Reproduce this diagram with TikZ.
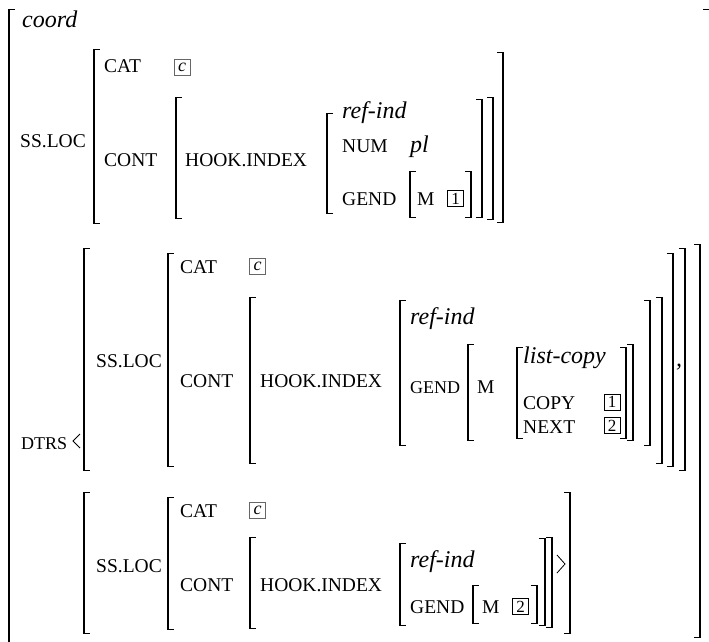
\documentclass[tikz,border=0pt]{standalone}
\usepackage{fontspec}
\setmainfont{Liberation Serif}
\usepackage{tikz}
\tikzset{
  vbar/.style={line width=2pt},
  tickl/.style={line width=1pt},
  sc/.style={anchor=base west, inner sep=0pt, font=\fontsize{19.5}{22}\selectfont},
  scn/.style={sc, font=\fontsize{18}{22}\selectfont},
  it/.style={anchor=base west, inner sep=0pt, font=\fontsize{24}{27}\selectfont\itshape},
  tag/.style={draw, line width=0.7pt, minimum width=16pt, minimum height=16pt, inner sep=0pt, font=\fontsize{17}{17}\selectfont},
  ctag/.style={tag, draw=black!60, font=\fontsize{18}{18}\selectfont\itshape},
  angle/.style={line width=0.8pt, line join=miter},
}
\newcommand\avmL[3]{\draw[vbar] (#1,#2) -- (#1,#3); \draw[tickl] (#1-1,#2) -- (#1+6,#2) (#1-1,#3) -- (#1+6,#3);}
\newcommand\avmR[3]{\draw[vbar] (#1,#2) -- (#1,#3); \draw[tickl] (#1+1,#2) -- (#1-6,#2) (#1+1,#3) -- (#1-6,#3);}
\begin{document}
\begin{tikzpicture}[x=1pt,y=-1pt]
\useasboundingbox (0,0) rectangle (709,642);
% outer matrix
\draw[vbar] (9,10) -- (9,660); \draw[tickl] (8,10) -- (15,10);
\draw[tickl] (703,10) -- (709,10);
\avmR{700}{244}{637}
\node[it] (coord) at (22,28) {coord};
% first SS.LOC
\node[sc] (ssloc1) at (20,147) {SS.LOC};
\avmL{94}{50}{223}
\node[sc] (cat1) at (104,73) {CAT};
\node[ctag] (c1) at (182,67.5) {c};
\node[sc] (cont1) at (104,166) {CONT};
\avmL{176}{97}{218}
\node[sc] (hook1) at (185,166) {HOOK.INDEX};
\avmL{327}{113}{213}
\node[it] (ref1) at (342,118) {ref-ind};
\node[sc] (num1) at (342,152) {NUM};
\node[it] (pl1) at (410,152) {pl};
\node[sc] (gend1) at (342,205) {GEND};
\avmL{410}{171}{217}
\node[sc] (m1) at (417,205) {M};
\node[tag] (t1a) at (455.5,198.5) {1};
\avmR{471}{171}{217}
\avmR{482}{99}{217}
\avmR{493}{97}{219}
\avmR{503}{53}{222}
% DTRS
\node[scn] (dtrs) at (21,449) {DTRS};
\draw[angle] (80,434) -- (73,441) -- (80,448);
% first daughter
\avmL{84}{248}{470}
\node[sc] (ssloc2) at (96,367) {SS.LOC};
\avmL{168}{253}{466}
\node[sc] (cat2) at (180,273) {CAT};
\node[ctag] (c2) at (257.5,266.5) {c};
\node[sc] (cont2) at (180,387) {CONT};
\avmL{250}{297}{463}
\node[sc] (hook2) at (260,387) {HOOK.INDEX};
\avmL{400}{300}{445}
\node[it] (ref2) at (410,324) {ref-ind};
\node[scn] (gend2) at (410,393) {GEND};
\avmL{468}{344}{440}
\node[sc] (m2) at (477,393) {M};
\avmL{517}{347}{438}
\node[it] (lc) at (523,363) {list-copy};
\node[sc] (copy) at (523,409) {COPY};
\node[tag] (t1b) at (612,402) {1};
\node[sc] (next) at (523,433) {NEXT};
\node[tag] (t2a) at (612,425.5) {2};
\avmR{626}{347}{438}
\avmR{633}{344}{440}
\avmR{650}{300}{445}
\avmR{662}{297}{463}
\avmR{673}{253}{466}
\node[it] (comma) at (676,366) {,};
\avmR{685}{248}{470}
% second daughter
\avmL{84}{492}{633}
\node[sc] (ssloc3) at (96,572) {SS.LOC};
\avmL{168}{497}{629}
\node[sc] (cat3) at (180,517) {CAT};
\node[ctag] (c3) at (257.5,510.5) {c};
\node[sc] (cont3) at (180,591) {CONT};
\avmL{250}{537}{628}
\node[sc] (hook3) at (260,591) {HOOK.INDEX};
\avmL{400}{543}{625}
\node[it] (ref3) at (410,567) {ref-ind};
\node[sc] (gend3) at (410,613) {GEND};
\avmL{473}{585}{623}
\node[sc] (m3) at (482,613) {M};
\node[tag] (t2b) at (520.5,606.5) {2};
\avmR{537}{585}{623}
\avmR{545}{538}{625}
\avmR{552}{537}{627}
\draw[angle] (557,555) -- (565,564) -- (557,573);
\avmR{570}{492}{633}
\end{tikzpicture}
\end{document}
